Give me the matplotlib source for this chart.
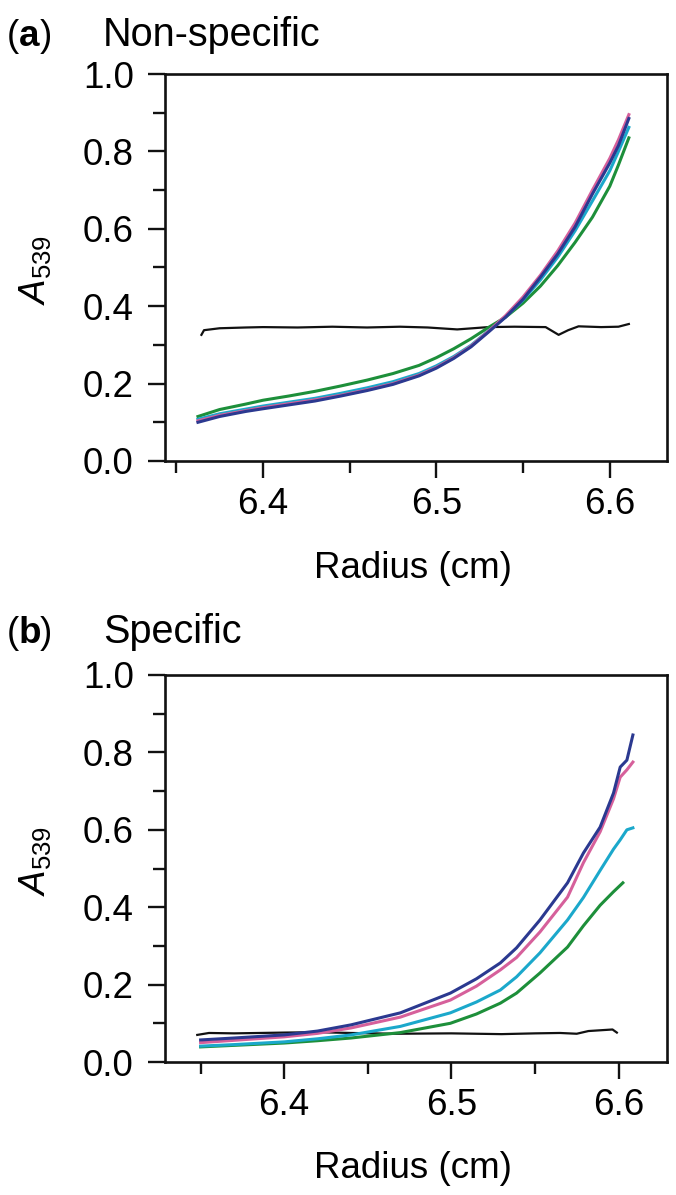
import matplotlib
matplotlib.use("Agg")
import matplotlib.pyplot as plt
from matplotlib.ticker import MultipleLocator

plt.rcParams['font.family'] = ['Liberation Sans', 'DejaVu Sans']
plt.rcParams['mathtext.fontset'] = 'custom'
plt.rcParams['mathtext.rm'] = 'Liberation Sans'
plt.rcParams['mathtext.it'] = 'Liberation Sans:italic'

# ---------------- data: panel (a) Non-specific ----------------
xa = [6.3625, 6.375, 6.39, 6.40, 6.415, 6.43, 6.445, 6.46, 6.475, 6.49, 6.50,
      6.51, 6.52, 6.53, 6.54, 6.55, 6.56, 6.57, 6.58, 6.59, 6.60, 6.605, 6.611]
blue_a = [0.100, 0.115, 0.128, 0.135, 0.145, 0.155, 0.168, 0.182, 0.198, 0.220, 0.240,
          0.265, 0.295, 0.333, 0.372, 0.418, 0.475, 0.535, 0.605, 0.690, 0.770, 0.815, 0.885]
pink_a = [0.104, 0.118, 0.130, 0.138, 0.148, 0.158, 0.170, 0.184, 0.200, 0.222, 0.242,
          0.267, 0.297, 0.335, 0.376, 0.424, 0.480, 0.543, 0.615, 0.700, 0.782, 0.830, 0.895]
cyan_a = [0.108, 0.122, 0.134, 0.142, 0.152, 0.162, 0.175, 0.189, 0.205, 0.226, 0.246,
          0.270, 0.299, 0.336, 0.373, 0.416, 0.468, 0.527, 0.595, 0.672, 0.750, 0.800, 0.862]
green_a = [0.115, 0.133, 0.147, 0.157, 0.168, 0.180, 0.194, 0.209, 0.226, 0.247, 0.267,
           0.290, 0.316, 0.345, 0.372, 0.408, 0.452, 0.505, 0.565, 0.630, 0.710, 0.765, 0.835]
black_ax = [6.3645, 6.366, 6.375, 6.39, 6.40, 6.42, 6.44, 6.46, 6.479, 6.495, 6.512,
            6.53, 6.545, 6.563, 6.5705, 6.576, 6.582, 6.595, 6.605, 6.611]
black_ay = [0.326, 0.338, 0.343, 0.345, 0.346, 0.345, 0.347, 0.345, 0.347, 0.345, 0.340,
            0.346, 0.347, 0.346, 0.326, 0.338, 0.348, 0.346, 0.347, 0.354]

# ---------------- data: panel (b) Specific ----------------
xb = [6.35, 6.37, 6.40, 6.42, 6.44, 6.4695, 6.4994, 6.515, 6.5293, 6.539, 6.553,
      6.5695, 6.579, 6.589, 6.597, 6.601, 6.605, 6.6086]
blue_b = [0.057, 0.062, 0.070, 0.080, 0.096, 0.127, 0.178, 0.215, 0.256, 0.295, 0.367,
          0.463, 0.540, 0.607, 0.695, 0.762, 0.780, 0.845]
pink_b = [0.050, 0.056, 0.065, 0.074, 0.088, 0.116, 0.160, 0.196, 0.238, 0.270, 0.336,
          0.426, 0.515, 0.595, 0.680, 0.736, 0.755, 0.775]
cyan_b = [0.041, 0.045, 0.052, 0.060, 0.070, 0.092, 0.127, 0.155, 0.186, 0.220, 0.282,
          0.367, 0.425, 0.495, 0.550, 0.574, 0.600, 0.605]
green_bx = [6.35, 6.37, 6.40, 6.42, 6.44, 6.4695, 6.4994, 6.515, 6.5293, 6.539, 6.553,
            6.5695, 6.579, 6.589, 6.597, 6.6026]
green_b = [0.039, 0.043, 0.049, 0.055, 0.062, 0.076, 0.100, 0.124, 0.152, 0.178, 0.230,
           0.297, 0.352, 0.405, 0.440, 0.463]
black_bx = [6.348, 6.355, 6.37, 6.40, 6.42, 6.44, 6.467, 6.50, 6.53, 6.55, 6.565,
            6.575, 6.582, 6.5964, 6.599]
black_by = [0.070, 0.075, 0.074, 0.076, 0.077, 0.075, 0.073, 0.074, 0.072, 0.074, 0.075,
            0.073, 0.080, 0.084, 0.076]

C_BLUE = '#2B3990'
C_PINK = '#D6609B'
C_CYAN = '#1BA8CB'
C_GREEN = '#1D8F3A'
C_BLACK = '#111111'

W, H = 676, 1195
fig = plt.figure(figsize=(W / 100, H / 100), dpi=100)

def px_axes(left, top, right, bottom):
    return fig.add_axes([left / W, 1 - bottom / H, (right - left) / W, (bottom - top) / H])

axa = px_axes(165, 74, 667, 461)
axb = px_axes(165, 675, 667, 1062)

FS = 26.5

def style(ax, xlim):
    ax.set_xlim(*xlim)
    ax.set_ylim(0, 1.0)
    ax.xaxis.set_major_locator(MultipleLocator(0.1))
    ax.xaxis.set_minor_locator(MultipleLocator(0.05))
    ax.yaxis.set_major_locator(MultipleLocator(0.2))
    ax.yaxis.set_minor_locator(MultipleLocator(0.1))
    ax.xaxis.set_major_formatter(plt.FuncFormatter(lambda v, p: f"{v:.1f}"))
    ax.yaxis.set_major_formatter(plt.FuncFormatter(lambda v, p: f"{v:.1f}"))
    for s in ax.spines.values():
        s.set_linewidth(1.9)
        s.set_color('#111111')
    ax.tick_params(axis='both', which='major', direction='out', length=12, width=1.7,
                   labelsize=FS, color='#111111')
    ax.tick_params(axis='both', which='minor', direction='out', length=8.5, width=1.7,
                   color='#111111')
    ax.tick_params(axis='x', which='major', pad=6.5)
    ax.tick_params(axis='y', which='major', pad=10.5)
    ax.set_xlabel('Radius (cm)', fontsize=FS)
    ax.set_ylabel(r'$A_{\mathrm{539}}$', fontsize=FS)
    ax.xaxis.label.set_va('baseline')

style(axa, (6.3435, 6.633))
style(axb, (6.3287, 6.629))

LW = 2.2
# panel a lines
axa.plot(black_ax, black_ay, color=C_BLACK, lw=1.6, zorder=2)
axa.plot(xa, green_a, color=C_GREEN, lw=LW, zorder=3)
axa.plot(xa, cyan_a, color=C_CYAN, lw=LW, zorder=4)
axa.plot(xa, pink_a, color=C_PINK, lw=LW, zorder=5)
axa.plot(xa, blue_a, color=C_BLUE, lw=LW, zorder=6)

# panel b lines
axb.plot(black_bx, black_by, color=C_BLACK, lw=1.6, zorder=2)
axb.plot(green_bx, green_b, color=C_GREEN, lw=LW, zorder=3)
axb.plot(xb, cyan_b, color=C_CYAN, lw=LW, zorder=4)
axb.plot(xb, pink_b, color=C_PINK, lw=LW, zorder=5)
axb.plot(xb, blue_b, color=C_BLUE, lw=LW, zorder=6)

axa.xaxis.set_label_coords(0.494, -0.302)
axb.xaxis.set_label_coords(0.494, -0.300)
axa.yaxis.set_label_coords(-0.258, 0.494)
axb.yaxis.set_label_coords(-0.258, 0.52)
for ax in (axa, axb):
    ax.yaxis.label.set_va('center')

def panel_label(letter, txt, baseline):
    y = 1 - baseline / H
    x0 = 7
    fig.text(x0 / W, y, '(', fontsize=FS, va='baseline', ha='left')
    fig.text((x0 + 12) / W, y, letter, fontsize=FS, va='baseline', ha='left', fontweight='bold')
    fig.text((x0 + 33) / W, y, ')', fontsize=FS, va='baseline', ha='left')
    fig.text(103 / W, y, txt, fontsize=28.5, va='baseline', ha='left')

panel_label('a', 'Non-specific', 46)
panel_label('b', 'Specific', 643)

fig.savefig('out.png', dpi=100)
